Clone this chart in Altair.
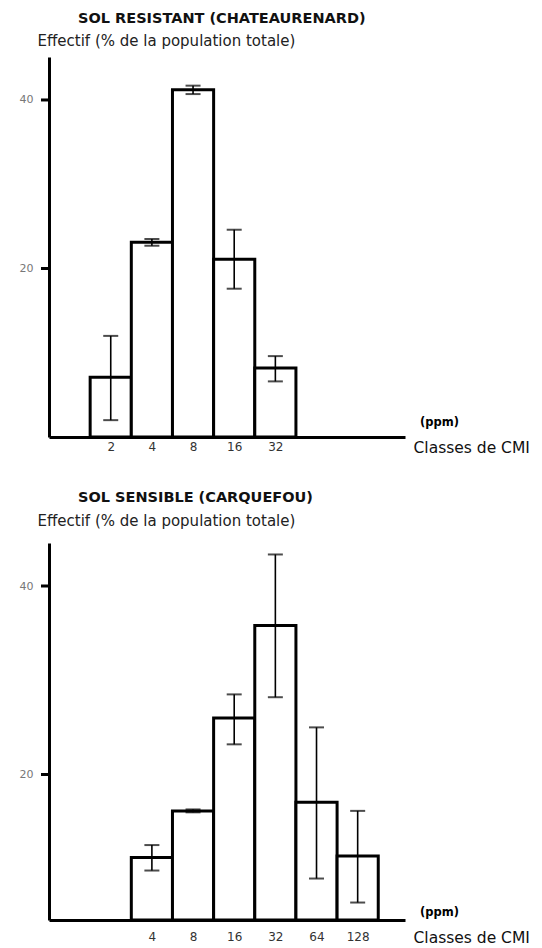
import math
import altair as alt
import pandas as pd

# ---- data ----
top_title = "SOL RESISTANT (CHATEAURENARD)"
top_classes = [2, 4, 8, 16, 32]
top_values = [7.1, 23.1, 41.2, 21.1, 8.2]
top_low = [2.0, 22.7, 40.7, 17.6, 6.6]
top_high = [12.0, 23.5, 41.7, 24.6, 9.6]

bot_title = "SOL SENSIBLE (CARQUEFOU)"
bot_classes = [4, 8, 16, 32, 64, 128]
bot_values = [8.6, 15.0, 26.0, 35.8, 16.2, 8.8]
bot_low = [6.8, 14.8, 23.2, 28.2, 5.7, 2.4]
bot_high = [10.3, 15.2, 28.5, 43.3, 25.0, 15.0]

y_ticks = [20, 40]
y_title = "Effectif (% de la population totale)"
x_title = "Classes de CMI"
unit_text = "(ppm)"

FONT = "DejaVu Sans"
W = 356
X_MAX = 8.65


def panel(title, classes, values, low, high, height, y_scale, lab_pad, xt_y, yt_y, ppm_y, t_off):
    df = pd.DataFrame({"classe": classes, "effectif": values, "bas": low, "haut": high})
    base = alt.Chart(df).transform_calculate(
        i="round(log(datum.classe) / LN2)",
        i2="datum.i + 1",
        m="datum.i + 0.5",
    )
    xscale = alt.Scale(domain=[0, X_MAX], nice=False, zero=False)
    tick_pos = [math.log2(c) + 0.5 for c in classes]
    xaxis = alt.Axis(
        values=tick_pos,
        labelExpr="format(pow(2, datum.value - 0.5), 'd')",
        title=x_title,
        titleX=364, titleY=xt_y, titleAlign="left", titleBaseline="middle",
        titleFontSize=15.5, titleFontWeight="normal", titleColor="#111",
        ticks=False, tickSize=0, labelPadding=lab_pad,
        labelFontSize=12, labelColor="#333", labelFlush=False,
        domainColor="black", domainWidth=3, grid=False,
    )
    yaxis = alt.Axis(
        values=y_ticks,
        title=y_title,
        titleAngle=0, titleAlign="left", titleBaseline="alphabetic",
        titleX=-12, titleY=yt_y, titleFontSize=15, titleFontWeight="normal",
        titleColor="#222",
        ticks=False, labelPadding=16, labelFontSize=11, labelColor="#777",
        domainColor="black", domainWidth=3, grid=False,
    )
    bars = base.mark_rect(fill="white", stroke="black", strokeWidth=3).encode(
        x=alt.X("i:Q", scale=xscale, axis=xaxis),
        x2="i2:Q",
        y=alt.Y("effectif:Q", scale=y_scale, axis=yaxis),
        y2=alt.datum(0),
    )
    err = base.mark_rule(color="black", strokeWidth=1.6).encode(
        x="m:Q", y="bas:Q", y2="haut:Q"
    )
    cap_lo = base.mark_tick(orient="horizontal", color="black", size=15, thickness=2).encode(
        x="m:Q", y="bas:Q"
    )
    cap_hi = base.mark_tick(orient="horizontal", color="black", size=15, thickness=2).encode(
        x="m:Q", y="haut:Q"
    )
    # y-axis tick marks (drawn as rules on the shared y scale)
    yt = alt.Chart(pd.DataFrame({"graduation": y_ticks})).mark_rule(
        color="black", strokeWidth=3
    ).encode(
        y=alt.Y("graduation:Q"),
        x=alt.value(-8), x2=alt.value(0),
    )
    ppm = alt.Chart(pd.DataFrame({"t": [unit_text]})).mark_text(
        align="left", baseline="middle", fontSize=11.5, font=FONT, color="#000",
        fontWeight="bold"
    ).encode(text="t:N", x=alt.value(371), y=alt.value(ppm_y))
    return alt.layer(bars, err, cap_lo, cap_hi, yt, ppm).properties(
        width=W, height=height,
        title=alt.TitleParams(
            text=title, anchor="start", frame="group", dx=29, offset=t_off,
            fontSize=14.5, fontWeight="bold", font=FONT, color="#111",
        ),
    )


top = panel(
    top_title, top_classes, top_values, top_low, top_high, 380,
    alt.Scale(domain=[0, 45.1], nice=False, zero=False),
    lab_pad=4, xt_y=10, yt_y=-12, ppm_y=366, t_off=7,
)
bot = panel(
    bot_title, bot_classes, bot_values, bot_low, bot_high, 377,
    alt.Scale(domain=[0, 20, 40, 44.5], range=[377, 231.5, 43, 0], nice=False, zero=False),
    lab_pad=11, xt_y=17, yt_y=-18, ppm_y=370, t_off=8,
)

chart = alt.vconcat(top, bot, spacing=106, bounds="flush").properties(
    padding={"left": 19, "top": 10, "right": 0, "bottom": 0}
).configure(font=FONT).configure_view(stroke=None)

chart.save("out.html", embed_options={"renderer": "svg", "actions": False})
